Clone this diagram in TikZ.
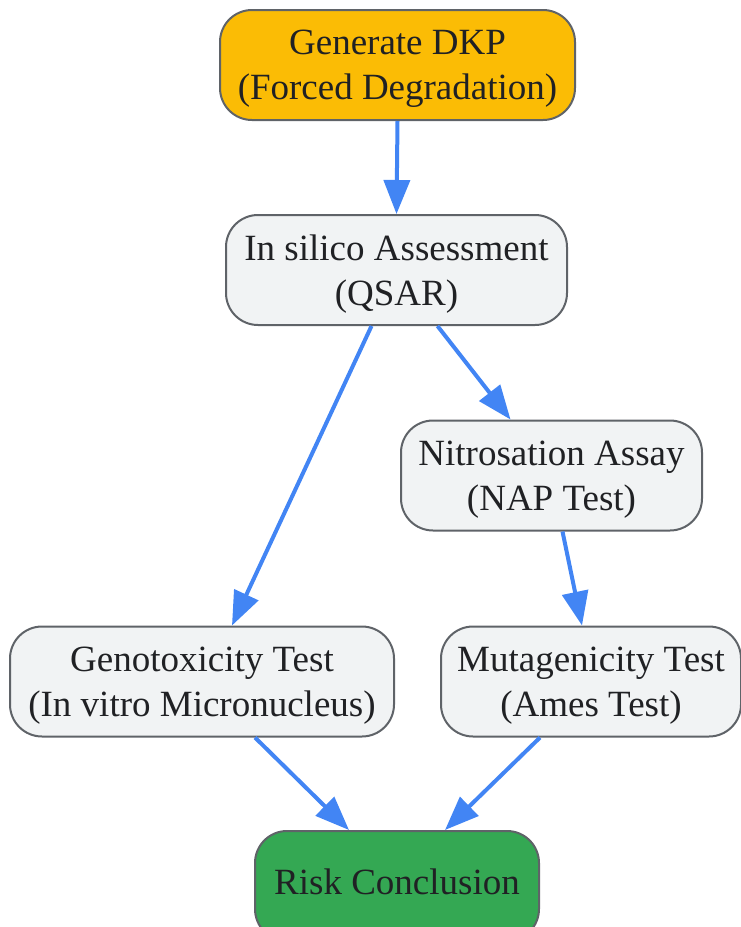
\documentclass[tikz,border=0pt]{standalone}
\usepackage{fontspec}
\setmainfont{Liberation Serif}
\usepackage{tikz}
\usetikzlibrary{calc,arrows.meta}
\usepackage{xcolor}
\definecolor{dkpyellow}{HTML}{FBBC05}
\definecolor{stepgray}{HTML}{F1F3F4}
\definecolor{riskgreen}{HTML}{34A853}
\definecolor{edgegray}{HTML}{5F6368}
\definecolor{flowblue}{HTML}{4285F4}
\definecolor{inkgray}{HTML}{202124}
\tikzset{
  stepbox/.style={draw=edgegray, line width=2pt, rounded corners=32pt, fill=stepgray,
    align=center, text=inkgray, inner sep=0pt, minimum height=110pt, text depth=0pt,
    font=\fontsize{37}{45}\selectfont},
  flow/.style={draw=flowblue, line width=4pt, -{Triangle[length=34pt,width=26pt]}},
}

\begin{document}
\begin{tikzpicture}[x=1pt, y=-1pt]
  \useasboundingbox (0,0) rectangle (741,927);
  \node[stepbox, fill=dkpyellow, minimum width=355pt] (dkp) at (397.5,65) {Generate DKP\\(Forced Degradation)};
  \node[stepbox, minimum width=341pt] (qsar) at (396.5,270) {In silico Assessment\\(QSAR)};
  \node[stepbox, minimum width=301pt] (nap) at (551.5,475.5) {Nitrosation Assay\\(NAP Test)};
  \node[stepbox, minimum width=384pt] (geno) at (202,681.5) {Genotoxicity Test\\(In vitro Micronucleus)};
  \node[stepbox, minimum width=300pt] (ames) at (591,681.5) {Mutagenicity Test\\(Ames Test)};
  \node[stepbox, fill=riskgreen, minimum width=284pt, text depth=9pt] (risk) at (397,886) {Risk Conclusion};

  \draw[flow] (dkp.south) -- (qsar.north);
  \draw[flow] ([xshift=-25pt]qsar.south) -- ([xshift=30pt]geno.north);
  \draw[flow] ([xshift=41pt]qsar.south) -- ([xshift=-41pt]nap.north);
  \draw[flow] ([xshift=11pt]nap.south) -- ([xshift=-9pt]ames.north);
  \draw[flow] ([xshift=53pt]geno.south) -- ([xshift=-48pt]risk.north);
  \draw[flow] ([xshift=-51pt]ames.south) -- ([xshift=48pt]risk.north);
\end{tikzpicture}
\end{document}
